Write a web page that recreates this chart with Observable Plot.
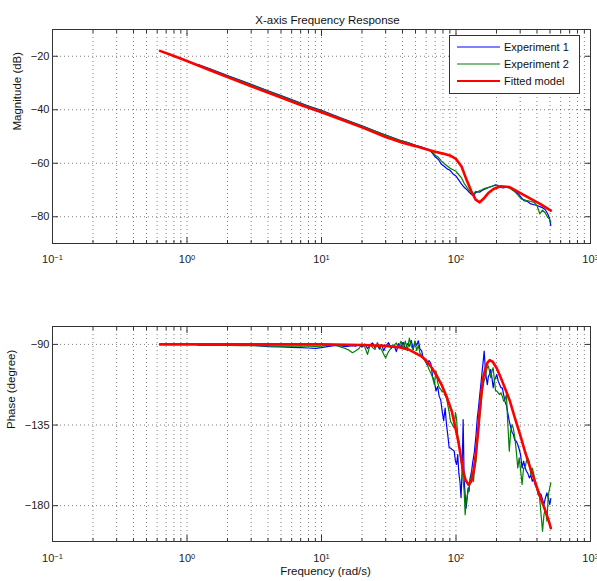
<!DOCTYPE html>
<html><head><meta charset="utf-8">
<script src="https://cdn.jsdelivr.net/npm/d3@7"></script>
<script src="https://cdn.jsdelivr.net/npm/@observablehq/plot@0.6"></script>
<style>
body{margin:0;background:#fff;font-family:"Liberation Sans",Arial,sans-serif;}
#wrap{position:relative;width:597px;height:581px;overflow:hidden;}
#top{position:absolute;left:0;top:0;}
#bot{position:absolute;left:0;top:290px;}
#legend{position:absolute;left:449px;top:35px;}
</style></head><body>
<div id="wrap"><div id="top"></div><div id="bot"></div><div id="legend"></div></div>
<script>
// ---------- tick values ----------
const majorTicks = [0.1, 1, 10, 100, 1000];
const minorTicks = [0.2,0.3,0.4,0.5,0.6,0.7,0.8,0.9, 2,3,4,5,6,7,8,9, 20,30,40,50,60,70,80,90, 200,300,400,500,600,700,800,900];
const magTicks = [-80, -60, -40, -20];
const phaseTicks = [-180, -135, -90];

// ---------- magnitude (dB) ----------
const magFreq = [1.2,1.5,2,2.5,3,4,5,6,7,8,
  10,12,14,17,20,24,28,33,38,44,
  50,56,62,66,70,74,78,82,86,90,
  95,100,105,110,115,120,125,130,135,140,
  145,150,156,162,170,178,186,195,205,215,
  226,238,250,262,275,290,305,320,340,360,
  380,400,420,440,460,480,495,507];
const exp1Mag = [-23.0,-24.8,-27.2,-29.0,-30.5,-32.9,-34.7,-36.2,-37.5,-38.6,
  -40.2,-41.8,-43.1,-44.7,-46.0,-47.6,-48.9,-50.2,-51.3,-52.3,
  -53.3,-54.0,-54.8,-55.9,-57.6,-58.6,-60.4,-61.2,-62.1,-62.6,
  -64.0,-64.8,-66.3,-67.8,-69.0,-69.8,-70.8,-71.6,-72.2,-71.0,
  -70.6,-70.8,-70.2,-69.8,-69.3,-68.9,-68.6,-68.1,-68.3,-69.0,
  -69.2,-68.8,-69.0,-69.6,-70.5,-71.4,-72.8,-74.0,-74.3,-75.2,
  -75.5,-75.8,-76.2,-76.6,-77.3,-78.9,-80.5,-83.3];
const exp2Mag = [-23.1,-25.0,-27.4,-29.2,-30.7,-33.1,-34.9,-36.4,-37.7,-38.8,
  -40.4,-42.0,-43.2,-44.8,-46.1,-47.7,-49.0,-50.3,-51.4,-52.4,
  -53.3,-54.1,-54.9,-55.6,-57.0,-57.8,-59.2,-60.2,-61.0,-61.8,
  -62.4,-63.0,-64.3,-65.5,-67.5,-68.8,-70.2,-71.0,-71.4,-70.5,
  -70.8,-70.2,-69.9,-69.5,-69.2,-68.9,-68.5,-68.3,-68.4,-68.8,
  -69.0,-69.0,-69.3,-70.0,-70.8,-72.0,-73.3,-73.6,-74.0,-74.3,
  -74.6,-75.8,-78.9,-77.5,-78.5,-80.2,-80.8,-82.0];
const modelMagFreq = [0.63,0.8,1,1.5,2,3,5,7,10,15,
  20,30,40,50,60,70,80,90,100,110,
  120,130,140,150,160,175,190,215,250,290,
  360,425,507];
const modelMag = [-18.0,-19.9,-21.8,-25.3,-27.8,-31.2,-35.4,-38.2,-40.9,-44.2,
  -46.6,-50.2,-52.3,-53.6,-54.8,-55.7,-56.4,-57.1,-58.4,-61.2,
  -66.3,-70.5,-73.6,-74.6,-73.3,-71.0,-69.6,-68.6,-68.9,-70.7,
  -73.3,-75.3,-77.7];

// ---------- phase (degree) ----------
const phaseFreq = [1.2,1.6,2,2.5,3,3.5,4,5,6,7,
  8,9,10,11,12,13,14,15,16,17,
  18,19,20,21,22,23,24,25,26,27,
  28,29,30,31.5,33,34.5,36,37.5,39,40.5,
  42,43.5,45,46.5,48,49.5,51,52.5,54,55.5,
  57,59,61,63,65,67,69,71,73,75,
  77,79,81,83,85,87,89,91,93,95,
  97,99,101,103,105,107,109,111,113,115,
  117,119,121,123,125,127,129,131,133,135,
  137,139,141,144,147,150,153,156,159,162,
  165,168,171,174,177,181,185,189,193,197,
  201,206,211,216,221,226,231,237,243,249,
  255,261,267,274,281,288,295,302,310,318,
  326,334,342,351,360,369,378,388,398,408,
  418,429,440,451,462,474,486,498,507];
const exp1Phase = [-90.3,-90.3,-90.4,-90.4,-90.5,-90.8,-91.2,-91.4,-91.6,-91.8,
  -92.0,-92.2,-91.8,-91.2,-90.8,-90.6,-90.9,-91.2,-91.0,-90.7,
  -90.9,-90.4,-91.5,-89.8,-92.4,-90.2,-89.2,-91.8,-90.5,-92.6,
  -90.1,-93.5,-91.0,-89.0,-92.2,-90.4,-94.0,-89.5,-91.6,-88.8,
  -92.8,-89.6,-91.0,-87.8,-93.0,-88.6,-90.5,-88.0,-92.6,-93.5,
  -97.5,-99.0,-101.5,-99.0,-100.5,-108.0,-110.5,-116.0,-113.5,-119.0,
  -121.0,-127.5,-132.5,-125.5,-134.8,-141.0,-147.8,-147.8,-148.5,-149.0,
  -149.6,-155.0,-157.0,-151.5,-162.0,-166.5,-175.5,-160.8,-132.0,-166.0,
  -174.0,-181.3,-176.0,-170.0,-172.0,-165.0,-162.7,-160.0,-156.0,-153.0,
  -150.0,-145.0,-140.3,-131.0,-125.4,-118.5,-112.4,-106.0,-100.0,-93.7,
  -103.0,-109.0,-112.4,-108.0,-106.8,-104.0,-108.5,-114.2,-110.0,-108.6,
  -106.8,-110.5,-112.4,-114.2,-114.2,-118.0,-121.7,-124.0,-128.5,-132.9,
  -136.0,-139.0,-140.3,-143.5,-144.1,-146.0,-148.5,-151.5,-159.0,-155.2,
  -158.5,-160.8,-162.0,-164.5,-163.0,-166.4,-165.0,-168.5,-170.1,-171.5,
  -173.0,-173.8,-176.5,-179.4,-175.7,-172.9,-176.0,-179.4,-176.0];
const exp2Phase = [-90.6,-90.6,-90.6,-90.7,-90.7,-90.8,-90.8,-90.9,-91.0,-91.0,
  -91.0,-91.1,-91.0,-90.6,-90.4,-90.7,-91.5,-92.3,-93.2,-94.6,
  -93.5,-92.3,-89.6,-91.5,-95.6,-90.0,-91.8,-92.8,-89.0,-91.5,
  -93.0,-95.5,-97.5,-94.0,-92.0,-90.5,-89.2,-91.5,-88.2,-92.5,
  -88.2,-93.5,-86.5,-91.0,-92.8,-88.0,-93.5,-90.5,-95.0,-96.0,
  -97.5,-99.5,-101.0,-104.0,-106.0,-108.5,-112.4,-104.9,-111.0,-114.2,
  -115.0,-116.5,-116.0,-118.5,-119.9,-124.0,-128.0,-132.9,-134.0,-135.5,
  -136.6,-128.0,-131.5,-141.0,-144.1,-150.0,-155.2,-159.0,-166.0,-172.0,
  -185.0,-177.6,-175.0,-172.0,-170.1,-168.0,-165.0,-160.8,-163.0,-166.4,
  -160.0,-158.0,-155.2,-144.1,-138.0,-131.0,-125.0,-118.0,-113.0,-110.0,
  -108.6,-105.0,-103.0,-102.0,-104.5,-108.6,-105.0,-103.0,-110.0,-116.0,
  -116.0,-117.0,-118.0,-117.0,-119.0,-121.7,-120.8,-118.0,-134.8,-149.6,
  -138.5,-134.8,-137.0,-142.2,-150.0,-159.0,-153.3,-160.0,-168.2,-159.0,
  -159.0,-155.0,-153.3,-156.0,-162.7,-159.0,-162.0,-166.4,-170.0,-173.8,
  -175.0,-185.0,-194.3,-185.0,-181.3,-188.7,-173.8,-170.0,-167.3];
const modelPhaseFreq = [0.63,5,10,20,30,37,45,55,60,66,
  72,78,85,93,98,104,108,113,118,124,
  130,135,140,146,150,155,160,166,172,178,
  188,200,215,231,250,274,300,325,355,386,
  420,458,485,507];
const modelPhase = [-90,-90,-90,-90.3,-90.8,-91.5,-93,-96.5,-99,-103,
  -107.5,-112.4,-119,-127.3,-135,-144,-151.5,-160.5,-165.8,-168.3,
  -166.5,-161,-152,-138.5,-127,-116,-108,-103,-100,-98.8,
  -99.8,-103,-108.5,-114.3,-121,-131,-140.5,-149.6,-158.5,-166.4,
  -174.5,-182.2,-187.5,-192.5];

const seriesNames = ["Experiment 1", "Experiment 2", "Fitted model"];
const seriesColors = ["#0000ff", "#008000", "#ff0000"];
const seriesWidths = [1.2, 1.2, 2.6];

const rows = (f, v) => f.map((x, i) => ({f: x, v: v[i]}));
const font = "'Liberation Sans', Arial, sans-serif";

function panel({height, marginTop, marginBottom, yDomain, yTicks, data, tickPad, extra}) {
  const dotted = {stroke: "#000", strokeOpacity: 0.5, strokeDasharray: "1,3", strokeWidth: 1};
  const svg = Plot.plot({
    width: 597, height, marginTop, marginBottom, marginLeft: 52, marginRight: 7,
    style: {fontFamily: font, fontSize: "11px", background: "white", color: "#222"},
    x: {type: "log", domain: [0.1, 1000], label: null},
    y: {domain: yDomain, label: null},
    marks: [
      Plot.gridX(majorTicks.concat(minorTicks), dotted),
      Plot.gridY(yTicks, dotted),
      ...data.map((d, i) => Plot.line(d, {x: "f", y: "v", stroke: seriesColors[i], strokeWidth: seriesWidths[i]})),
      Plot.frame({stroke: "#333"}),
      Plot.axisX(majorTicks, {anchor: "bottom", tickSize: -6, fill: "none", stroke: "#333", label: null}),
      Plot.axisX(majorTicks, {anchor: "top", tickSize: -6, fill: "none", stroke: "#333", label: null}),
      Plot.axisX(minorTicks, {anchor: "bottom", tickSize: -3, fill: "none", stroke: "#333", label: null}),
      Plot.axisX(minorTicks, {anchor: "top", tickSize: -3, fill: "none", stroke: "#333", label: null}),
      Plot.axisY(yTicks, {anchor: "left", tickSize: -6, fill: "none", stroke: "#333", label: null}),
      Plot.axisY(yTicks, {anchor: "right", tickSize: -6, fill: "none", stroke: "#333", label: null}),
      Plot.axisX(majorTicks, {anchor: "bottom", tickSize: 0, tickPadding: tickPad, label: null,
        fontSize: 11, tickFormat: d => "10^" + Math.round(Math.log10(d))}),
      Plot.axisY(yTicks, {anchor: "left", tickSize: 0, tickPadding: 3, label: null, fontSize: 11}),
      ...extra
    ]
  });
  // superscript exponents on the log axis labels
  const ns = "http://www.w3.org/2000/svg";
  svg.querySelectorAll('g[aria-label="x-axis tick label"] text').forEach(t => {
    const parts = t.textContent.split("^");
    if (parts.length < 2) return;
    t.textContent = "";
    const a = document.createElementNS(ns, "tspan");
    a.textContent = parts[0];
    const b = document.createElementNS(ns, "tspan");
    b.textContent = parts[1].replace("-", "\u2212");
    b.setAttribute("dy", "-0.5em");
    b.setAttribute("font-size", "7.5");
    t.appendChild(a); t.appendChild(b);
  });
  return svg;
}

const topSvg = panel({
  height: 275, marginTop: 29, marginBottom: 32, yDomain: [-90, -10], yTicks: magTicks, tickPad: 12,
  data: [rows(magFreq, exp1Mag), rows(magFreq, exp2Mag), rows(modelMagFreq, modelMag)],
  extra: [
    Plot.text(["X-axis Frequency Response"], {frameAnchor: "top", dy: -14, dx: 6, fontSize: 11.5, fill: "#111"}),
    Plot.text(["Magnitude (dB)"], {frameAnchor: "left", rotate: -90, dx: -35, dy: -6, fontSize: 11.5, fill: "#111"})
  ]
});
document.getElementById("top").appendChild(topSvg);

const botSvg = panel({
  height: 291, marginTop: 36, marginBottom: 40, yDomain: [-200, -80], yTicks: phaseTicks, tickPad: 13,
  data: [rows(phaseFreq, exp1Phase), rows(phaseFreq, exp2Phase), rows(modelPhaseFreq, modelPhase)],
  extra: [
    Plot.text(["Frequency (rad/s)"], {frameAnchor: "bottom", dy: 33, dx: 4, fontSize: 11.5, fill: "#111"}),
    Plot.text(["Phase (degree)"], {frameAnchor: "left", rotate: -90, dx: -41, dy: -5, fontSize: 11.5, fill: "#111"})
  ]
});
document.getElementById("bot").appendChild(botSvg);

// ---------- legend ----------
const lg = d3.select("#legend").append("svg").attr("width", 131).attr("height", 59)
  .style("font-family", font).style("font-size", "11px");
lg.append("rect").attr("x", 0.5).attr("y", 0.5).attr("width", 130).attr("height", 58)
  .attr("fill", "white").attr("stroke", "#333");
seriesNames.forEach((name, i) => {
  const y = 12 + i * 17;
  lg.append("line").attr("x1", 8).attr("x2", 51).attr("y1", y).attr("y2", y)
    .attr("stroke", seriesColors[i]).attr("stroke-width", i === 2 ? 2 : 1.2);
  lg.append("text").attr("x", 55).attr("y", y).attr("dy", "0.35em").attr("fill", "#111").text(name);
});
</script>
</body></html>
